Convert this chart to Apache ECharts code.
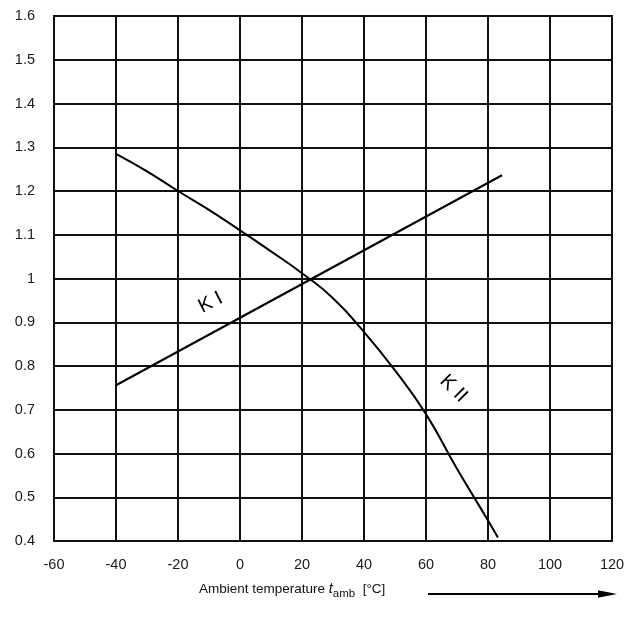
<!DOCTYPE html>
<html>
<head>
<meta charset="utf-8">
<script src="https://cdn.jsdelivr.net/npm/echarts@6/dist/echarts.min.js"></script>
<style>
html,body{margin:0;padding:0;background:#fff;}
#chart{width:641px;height:635px;}
</style>
</head>
<body>
<div id="chart"></div>
<script>
// ---- data ----
const xRange = [-60, 120, 20];       // min, max, interval (°C)
const yRange = [0.4, 1.6, 0.1];      // min, max, interval
const seriesKI = [[-40, 0.756], [84.5, 1.236]];
const seriesKII = [
  [-40, 1.285], [-30, 1.245], [-20, 1.200], [-10, 1.157], [0, 1.110],
  [10, 1.062], [20, 1.012], [30, 0.955], [40, 0.878], [50, 0.790],
  [60, 0.690], [70, 0.565], [80, 0.447], [83.2, 0.408]
];
const curveLabels = [
  { text: 'K I',  at: [-9.5, 0.945], rotateDeg: 27 },
  { text: 'K II', at: [68.9, 0.748], rotateDeg: -45 }
];
const axisTitle = { main: 'Ambient temperature ', sym: 't', sub: 'amb', unit: '  [°C]' };

const FONT = '"Liberation Sans", Arial, Helvetica, sans-serif';
const INK = '#111';

const chart = echarts.init(document.getElementById('chart'), null, { renderer: 'canvas' });

const option = {
  animation: false,
  backgroundColor: '#fff',
  grid: {
    left: 54, top: 16, width: 558, height: 525,
    show: true, borderColor: INK, borderWidth: 2, backgroundColor: 'transparent'
  },
  xAxis: {
    type: 'value', min: xRange[0], max: xRange[1], interval: xRange[2],
    axisLine: { show: true, lineStyle: { color: INK, width: 2 } },
    axisTick: { show: false },
    axisLabel: { color: '#1a1a1a', fontFamily: FONT, fontSize: 14.5, margin: 16 },
    splitLine: { show: true, lineStyle: { color: INK, width: 2 } }
  },
  yAxis: {
    type: 'value', min: yRange[0], max: yRange[1], interval: yRange[2],
    axisLine: { show: true, lineStyle: { color: INK, width: 2 } },
    axisTick: { show: false },
    axisLabel: {
      color: '#1a1a1a', fontFamily: FONT, fontSize: 14.5, margin: 19,
      formatter: v => String(+v.toFixed(1))
    },
    splitLine: { show: true, lineStyle: { color: INK, width: 2 } }
  },
  series: [
    {
      name: 'K I', type: 'line', data: seriesKI, symbol: 'none',
      lineStyle: { color: '#000', width: 2 }, silent: true
    },
    {
      name: 'K II', type: 'line', data: seriesKII, symbol: 'none',
      smooth: 0.5,
      lineStyle: { color: '#000', width: 2 }, silent: true
    }
  ]
};
chart.setOption(option);

// curve labels placed at data coordinates
const labelGraphics = curveLabels.map(l => {
  const p = chart.convertToPixel({ gridIndex: 0 }, l.at);
  return {
    type: 'text', x: p[0], y: p[1], rotation: l.rotateDeg * Math.PI / 180,
    style: {
      text: l.text, fill: '#000', font: '20px ' + FONT,
      align: 'center', verticalAlign: 'middle'
    }
  };
});

// axis title with arrow
const titleGraphics = [
  {
    type: 'text', x: 199, y: 589,
    style: {
      text: '{m|' + axisTitle.main + '}{i|' + axisTitle.sym + '}{s|' + axisTitle.sub + '}{m|' + axisTitle.unit + '}',
      align: 'left', verticalAlign: 'middle',
      rich: {
        m: { fontFamily: FONT, fontSize: 13.5, fill: '#111', lineHeight: 22, verticalAlign: 'middle' },
        i: { fontFamily: FONT, fontSize: 14.5, fontStyle: 'italic', fill: '#111', lineHeight: 22, verticalAlign: 'middle' },
        s: { fontFamily: FONT, fontSize: 11.5, fill: '#111', lineHeight: 11, verticalAlign: 'bottom' }
      }
    }
  },
  {
    type: 'line', shape: { x1: 428, y1: 594, x2: 600, y2: 594 },
    style: { stroke: '#000', lineWidth: 2 }
  },
  {
    type: 'polygon', shape: { points: [[598, 590.3], [617, 594], [598, 597.7]] },
    style: { fill: '#000' }
  }
];

chart.setOption({ graphic: labelGraphics.concat(titleGraphics) });
</script>
</body>
</html>
